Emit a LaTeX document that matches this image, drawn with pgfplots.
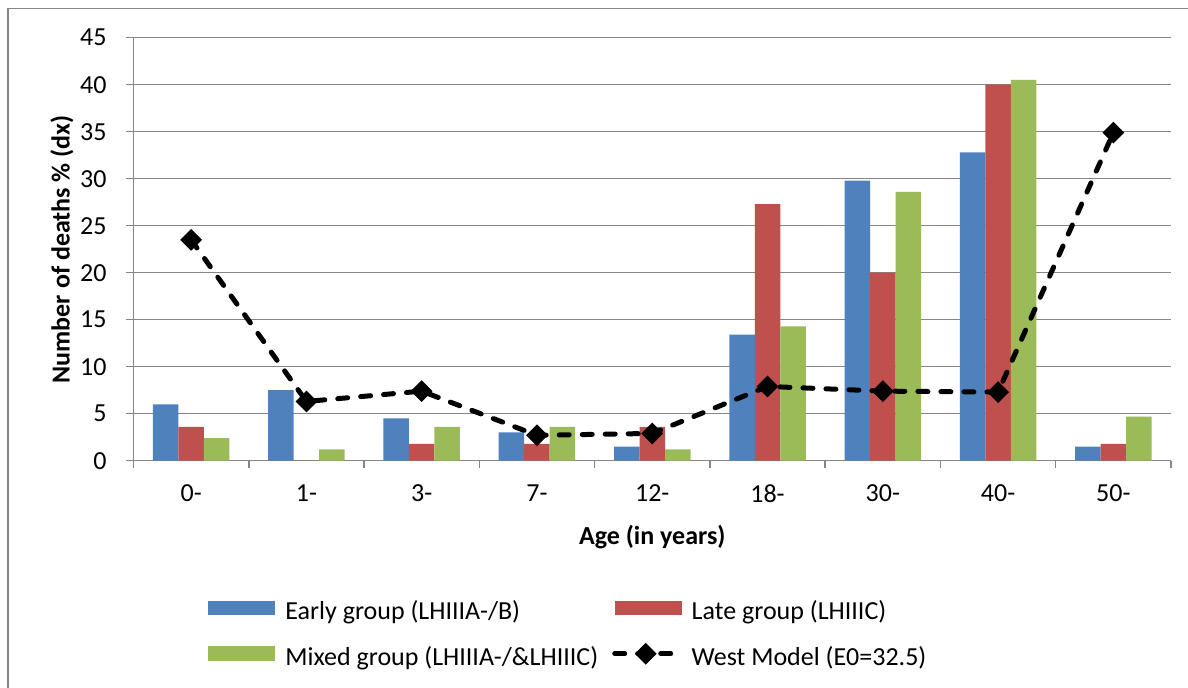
\documentclass[border=0pt]{standalone}
\usepackage{pgfplots}
\pgfplotsset{compat=1.18}
\usepackage{fontspec}
\setmainfont{Carlito}
\definecolor{cblue}{RGB}{79,129,189}
\definecolor{cred}{RGB}{192,80,77}
\definecolor{cgreen}{RGB}{155,187,89}
\definecolor{gridgray}{RGB}{134,134,134}
\pgfplotsset{
  barleg/.style={legend image code/.code={\fill[##1] (0pt,-0.4pt) rectangle (33.5pt,6.85pt);}},
  lineleg/.style={legend image code/.code={\draw[##1, mark repeat=2, mark phase=2] plot coordinates {(0pt,3.2pt) (15.5pt,3.2pt) (31pt,3.2pt)};}},
}
\begin{document}
\fontsize{13pt}{15.6pt}\selectfont
\begin{tikzpicture}
\useasboundingbox (-66.75pt,-113.65pt) rectangle (527.25pt,230.35pt);
\draw[gridgray, line width=0.75pt] (-62.75pt,-120pt) -- (-62.75pt,226.1pt) -- (540pt,226.1pt);
\begin{axis}[
  at={(0pt,0pt)}, anchor=south west,
  scale only axis, width=518.75pt, height=211.5pt,
  xmin=-0.5, xmax=8.5, ymin=0, ymax=45,
  ytick={0,5,...,45},
  xtick={0,...,8},
  xticklabels={0-,1-,3-,7-,12-,18-,30-,40-,50-},
  minor xtick={-0.5,0.5,...,8.5},
  axis x line*=bottom, axis y line*=left,
  axis line style={gridgray, line width=0.75pt, -},
  ymajorgrids, major grid style={gridgray, line width=0.75pt},
  tick align=outside,
  tick style={gridgray, line width=0.75pt},
  major tick length=3.5pt, minor tick length=3.5pt,
  major x tick style={draw=none},
  minor x tick style={draw=gridgray},
  yticklabel style={xshift=-5.5pt},
  xticklabel style={yshift=-4.1pt},
  /pgf/number format/assume math mode=true,
  xlabel={\textbf{Age (in years)}},
  ylabel={\textbf{Number of deaths \% (dx)}},
  xlabel style={at={(axis description cs:0.5,-0.1804)}, anchor=center},
  ylabel style={at={(axis description cs:-0.0689,0.5)}, anchor=center},
  legend columns=2,
  legend cell align=left,
  legend style={at={(axis description cs:0.0718,-0.3303)}, anchor=north west,
    draw=none, fill=none, inner sep=0pt, row sep=10pt,
    nodes={inner sep=0pt, text height=7pt, text depth=2pt},
    /tikz/every odd column/.append style={column sep=5pt},
    /tikz/every even column/.append style={column sep=7pt}},
]
\addplot[ybar, bar width=12.75pt, bar shift=-12.75pt, fill=cblue, draw=none, barleg]
  coordinates {(0,6.0) (1,7.5) (2,4.5) (3,3.0) (4,1.5) (5,13.4) (6,29.8) (7,32.8) (8,1.5)};
\addlegendentry{Early group (LHIIIA-/B)}
\addplot[ybar, bar width=12.75pt, bar shift=0pt, fill=cred, draw=none, barleg]
  coordinates {(0,3.6) (1,0) (2,1.8) (3,1.8) (4,3.6) (5,27.3) (6,20.0) (7,40.0) (8,1.8)};
\addlegendentry{Late group (LHIIIC)}
\addplot[ybar, bar width=12.75pt, bar shift=12.75pt, fill=cgreen, draw=none, barleg]
  coordinates {(0,2.4) (1,1.2) (2,3.6) (3,3.6) (4,1.2) (5,14.3) (6,28.6) (7,40.5) (8,4.7)};
\addlegendentry{Mixed group (LHIIIA-/\&LHIIIC)}
\addplot[black, line width=2.5pt, dash pattern=on 5pt off 6.5pt, line cap=round,
  mark=square*, mark size=3.6pt,
  mark options={solid, rotate=45, fill=black, draw=black, line width=0.5pt}, lineleg]
  coordinates {(0,23.5) (1,6.3) (2,7.4) (3,2.7) (4,2.9) (5,7.9) (6,7.4) (7,7.3) (8,34.9)};
\addlegendentry{West Model (E0=32.5)}
\end{axis}
\end{tikzpicture}
\end{document}
